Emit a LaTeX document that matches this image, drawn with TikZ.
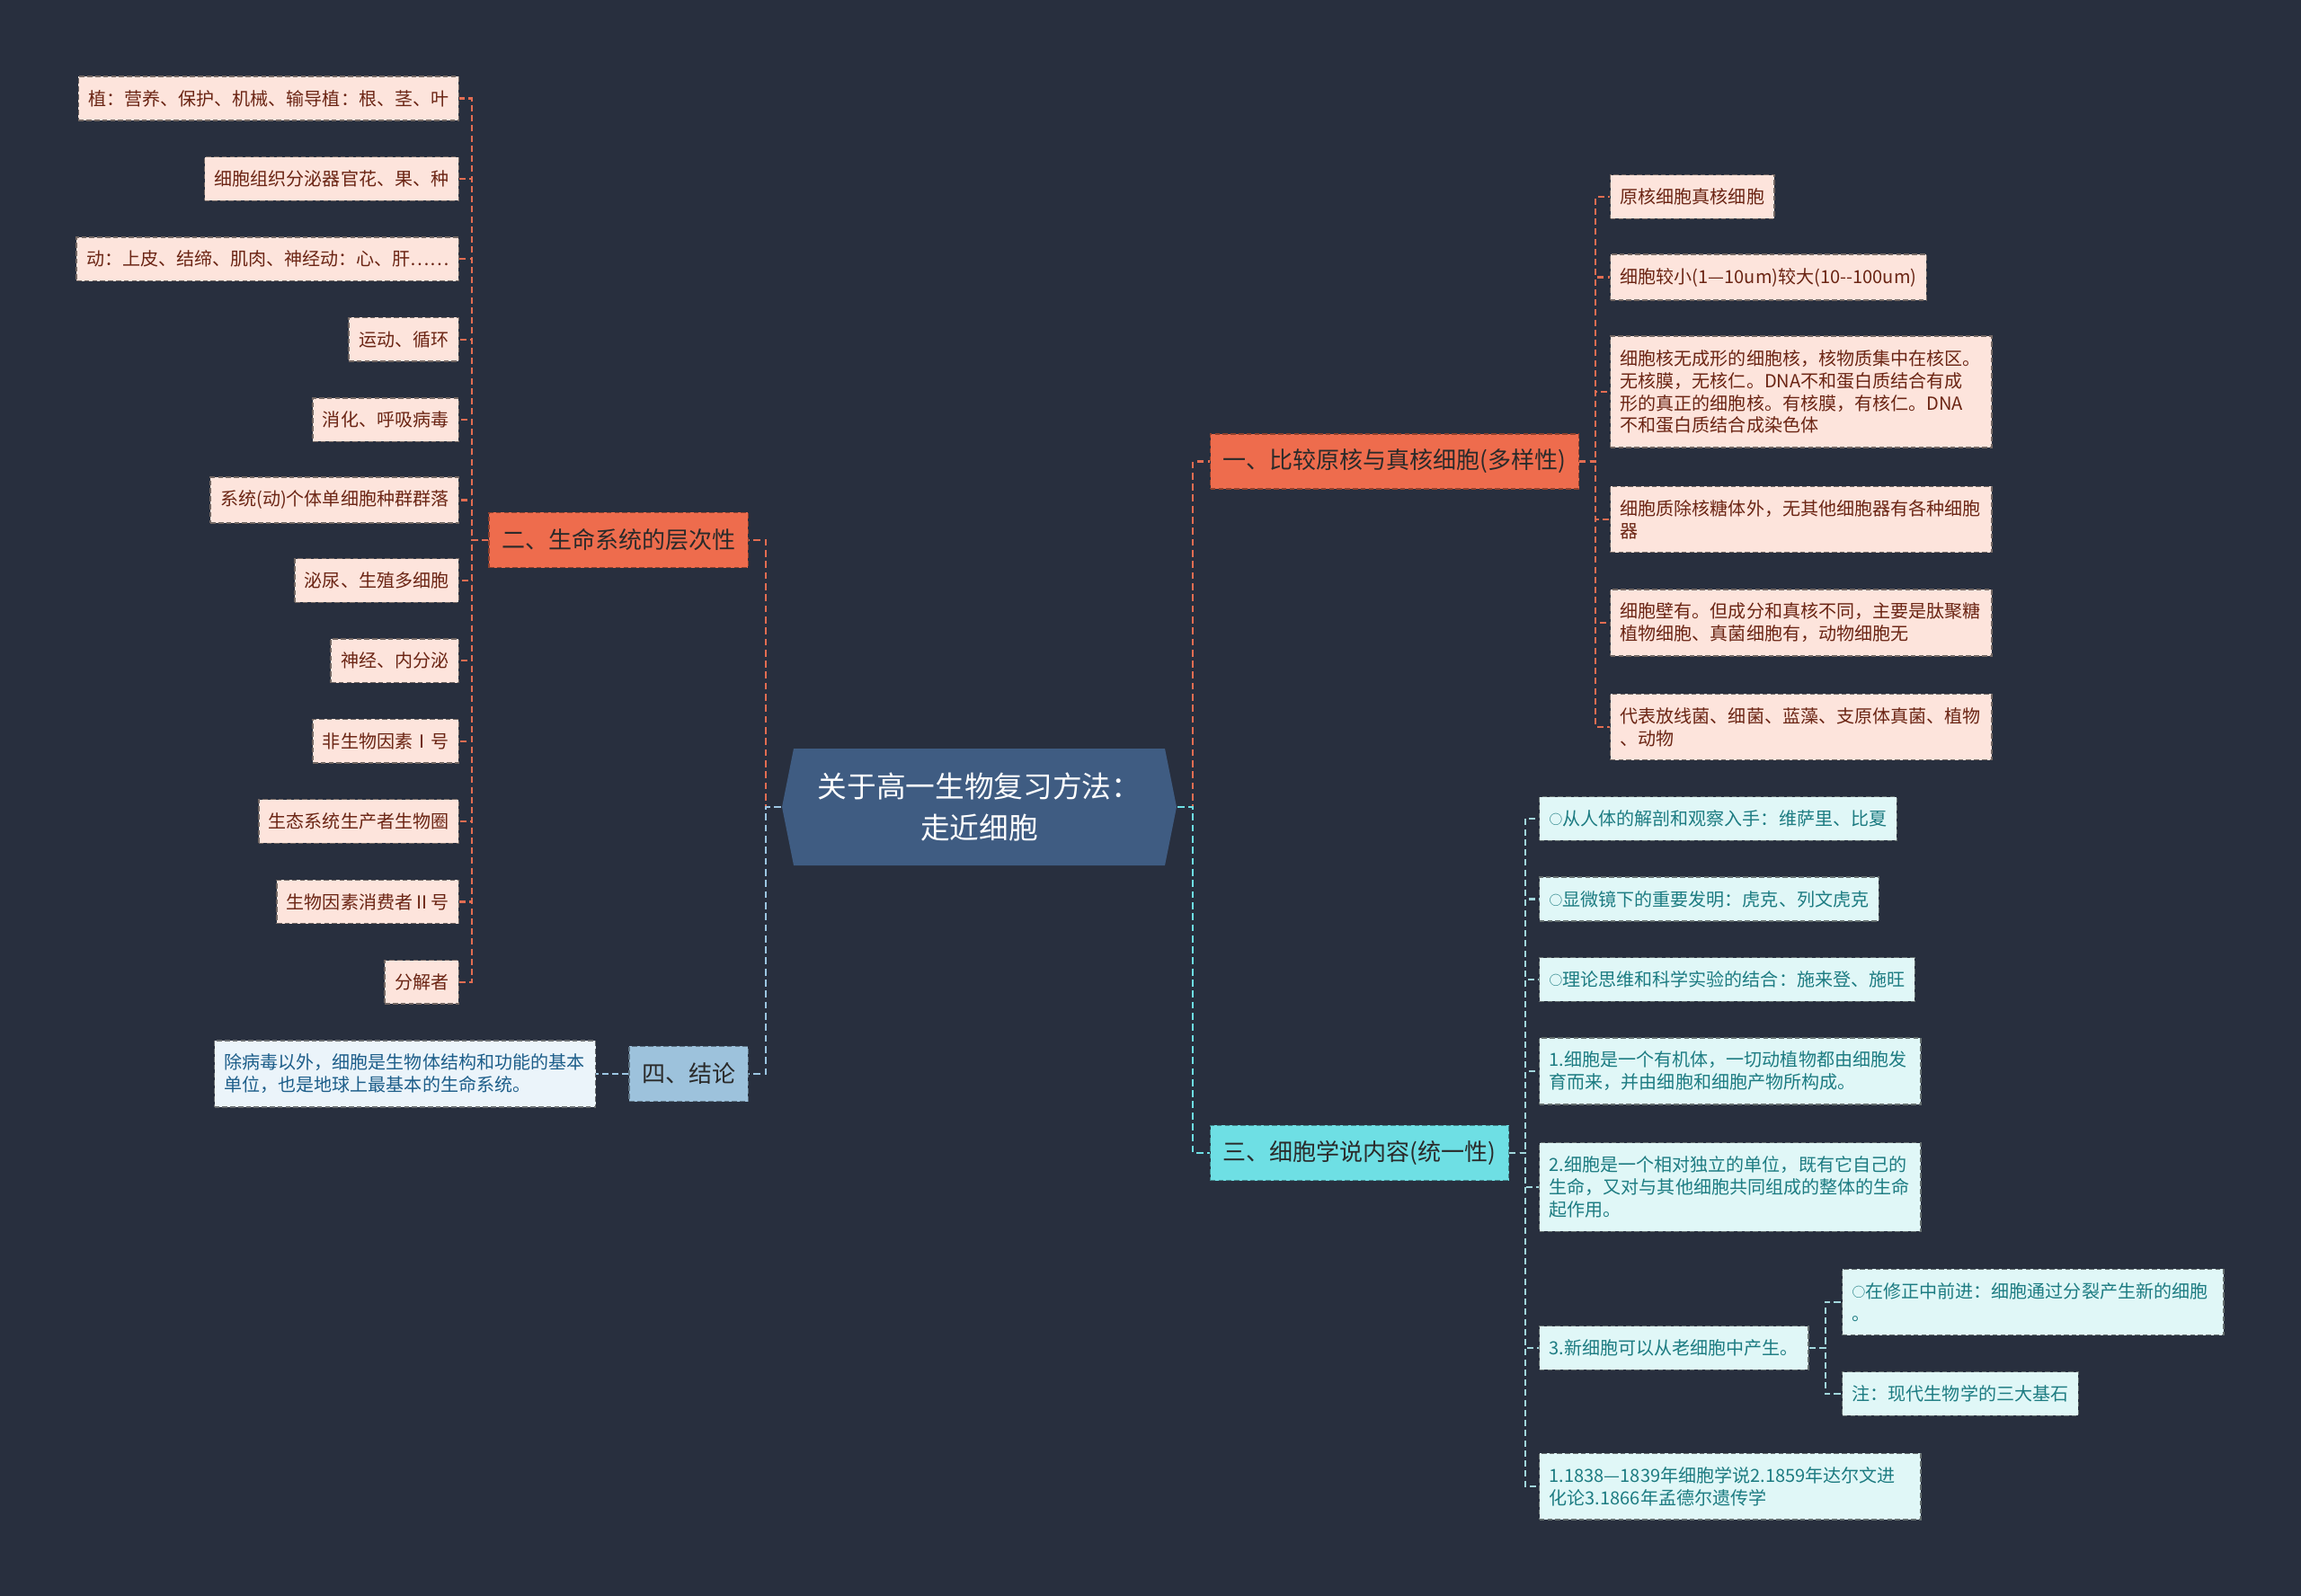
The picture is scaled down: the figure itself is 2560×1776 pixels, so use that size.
\documentclass[tikz,border=0pt]{standalone}
\usepackage{fontspec}
\setmainfont{Noto Sans CJK SC}
\usepackage{xcolor}
\definecolor{BgNavy}{HTML}{282F3E}
\definecolor{RootBlue}{HTML}{3F5C82}
\definecolor{CoralMain}{HTML}{EE6C4D}
\definecolor{CoralLeaf}{HTML}{FDE4DC}
\definecolor{CoralText}{HTML}{6B2514}
\definecolor{CoralLink}{HTML}{E36D52}
\definecolor{AquaMain}{HTML}{6EDFE4}
\definecolor{AquaLeaf}{HTML}{E0F7F7}
\definecolor{AquaText}{HTML}{1D7C82}
\definecolor{AquaSub}{HTML}{A2D7DC}
\definecolor{SkyMain}{HTML}{9DC2DC}
\definecolor{SkyLeaf}{HTML}{EBF4FA}
\definecolor{SkyText}{HTML}{1D5E8A}
\definecolor{SkyLink}{HTML}{9CC6E2}
\definecolor{TopicText}{HTML}{2A2A2A}
\usepackage{tikz}
\usetikzlibrary{positioning}
\newcommand{\ring}{\raisebox{0.1ex}{\fontsize{4.2pt}{4.6pt}\selectfont ○}}

\begin{document}
\begin{tikzpicture}[
        x=0.01cm, y=-0.01cm,
        box/.style={dashed, dash pattern=on 1.6pt off 0.9pt, line width=0.4pt,
                    inner xsep=0.11cm, inner ysep=0.15cm, minimum height=0.47cm,
                    font=\fontsize{5.7pt}{7.1pt}\selectfont},
        wide/.style={text width=4.02cm, align=left},
        coral/.style={box, fill=CoralLeaf, draw=CoralLeaf!45!black, text=CoralText},
        aqua/.style={box, fill=AquaLeaf, draw=AquaLeaf!45!black, text=AquaText},
        sky/.style={box, fill=SkyLeaf, draw=SkyLeaf!45!black, text=SkyText},
        topic/.style={dashed, dash pattern=on 1.6pt off 0.9pt, line width=0.4pt,
                      fill=#1, draw=#1!60!black, text=TopicText,
                      inner xsep=0.14cm, minimum height=0.61cm,
                      font=\fontsize{7.4pt}{9pt}\selectfont},
        root/.style={text=white, align=center, minimum width=4.39cm,
                     minimum height=1.3cm, font=\fontsize{9.3pt}{13.3pt}\selectfont},
        trunk/.style={draw=#1, dash pattern=on 2.2pt off 1.3pt, line width=0.8pt},
        twig/.style={draw=#1, dash pattern=on 2pt off 1.2pt, line width=0.6pt}
      ]
        \useasboundingbox (0,0) rectangle (2560,1776);
        \fill[BgNavy] (0,0) rectangle (2560,1776);

        % Root
        \fill[RootBlue] (883,833) -- (1296,833) -- (1309,898) -- (1296,963)
                        -- (883,963) -- (870,898) -- cycle;
        \node[root] (root) at (1089.5,898) {关于高一生物复习方法：\\走近细胞};

        % Branch: levels of life systems
        \node[topic=CoralMain, anchor=east] (er) at (833,601) {二、生命系统的层次性};
        \foreach \i/\txt in {1/植：营养、保护、机械、输导植：根、茎、叶,
                             2/细胞组织分泌器官花、果、种,
                             3/动：上皮、结缔、肌肉、神经动：心、肝……,
                             4/运动、循环,
                             5/消化、呼吸病毒,
                             6/系统(动)个体单细胞种群群落,
                             7/泌尿、生殖多细胞,
                             8/神经、内分泌,
                             9/非生物因素Ⅰ号,
                             10/生态系统生产者生物圈,
                             11/生物因素消费者Ⅱ号,
                             12/分解者}{
          \node[coral, anchor=east] (L\i) at (511, {109.5+(\i-1)*89.4}) {\txt};
        }

        % Branch: conclusion
        \node[topic=SkyMain, anchor=east] (si) at (833,1195) {四、结论};
        \node[sky, wide, left=0.36cm of si] (S1)
          {除病毒以外，细胞是生物体结构和功能的基本\\单位，也是地球上最基本的生命系统。};

        % Branch: prokaryote vs eukaryote
        \node[topic=CoralMain, anchor=west] (yi) at (1346,513.5) {一、比较原核与真核细胞(多样性)};
        \node[coral, anchor=west] (P1) at (1791,219) {原核细胞真核细胞};
        \node[coral, anchor=west] (P2) at (1791,308.5) {细胞较小(1—10um)较大(10{-}{-}100um)};
        \node[coral, wide, anchor=west] (P3) at (1791,436)
          {细胞核无成形的细胞核，核物质集中在核区。\\无核膜，无核仁。DNA不和蛋白质结合有成\\形的真正的细胞核。有核膜，有核仁。DNA\\不和蛋白质结合成染色体};
        \node[coral, wide, anchor=west] (P4) at (1791,578)
          {细胞质除核糖体外，无其他细胞器有各种细胞\\器};
        \node[coral, wide, anchor=west] (P5) at (1791,693)
          {细胞壁有。但成分和真核不同，主要是肽聚糖\\植物细胞、真菌细胞有，动物细胞无};
        \node[coral, wide, anchor=west] (P6) at (1791,809)
          {代表放线菌、细菌、蓝藻、支原体真菌、植物\\、动物};

        % Branch: cell theory
        \node[topic=AquaMain, anchor=west] (san) at (1346,1283) {三、细胞学说内容(统一性)};
        \node[aqua, anchor=west] (T1) at (1712,911) {\ring 从人体的解剖和观察入手：维萨里、比夏};
        \node[aqua, anchor=west] (T2) at (1712,1000.5) {\ring 显微镜下的重要发明：虎克、列文虎克};
        \node[aqua, anchor=west] (T3) at (1712,1090) {\ring 理论思维和科学实验的结合：施来登、施旺};
        \node[aqua, wide, anchor=west] (T4) at (1712,1192)
          {1.细胞是一个有机体，一切动植物都由细胞发\\育而来，并由细胞和细胞产物所构成。};
        \node[aqua, wide, anchor=west] (T5) at (1712,1321)
          {2.细胞是一个相对独立的单位，既有它自己的\\生命，又对与其他细胞共同组成的整体的生命\\起作用。};
        \node[aqua, anchor=west] (T6) at (1712,1500) {3.新细胞可以从老细胞中产生。};
        \node[aqua, wide, anchor=west] (T7) at (1712,1654)
          {1.1838—1839年细胞学说2.1859年达尔文进\\化论3.1866年孟德尔遗传学};
        \node[aqua, wide, anchor=west] (N1) at (2049,1449)
          {\ring 在修正中前进：细胞通过分裂产生新的细胞\\。};
        \node[aqua, anchor=west] (N2) at (2049,1551) {注：现代生物学的三大基石};

        % Trunk links
        \coordinate (busL) at (852,898);
        \coordinate (busR) at (1327,898);
        \draw[trunk=CoralLink] (root.west) -- (busL) |- (er.east);
        \draw[trunk=SkyLink] (root.west) -- (busL) |- (si.east);
        \draw[trunk=CoralLink] (root.east) -- (busR) |- (yi.west);
        \draw[trunk=AquaMain] (root.east) -- (busR) |- (san.west);

        % Twig links
        \foreach \i in {1,...,12}
          \draw[twig=CoralLink] (er.west) -- ++(-18,0) |- (L\i.east);
        \foreach \i in {1,...,6}
          \draw[twig=CoralLink] (yi.east) -- ++(18,0) |- (P\i.west);
        \foreach \i in {1,...,7}
          \draw[twig=AquaSub] (san.east) -- ++(18,0) |- (T\i.west);
        \foreach \i in {1,2}
          \draw[twig=AquaSub] (T6.east) -- ++(18,0) |- (N\i.west);
        \draw[twig=SkyLink] (si.west) -- (S1.east);
      \end{tikzpicture}
\end{document}
